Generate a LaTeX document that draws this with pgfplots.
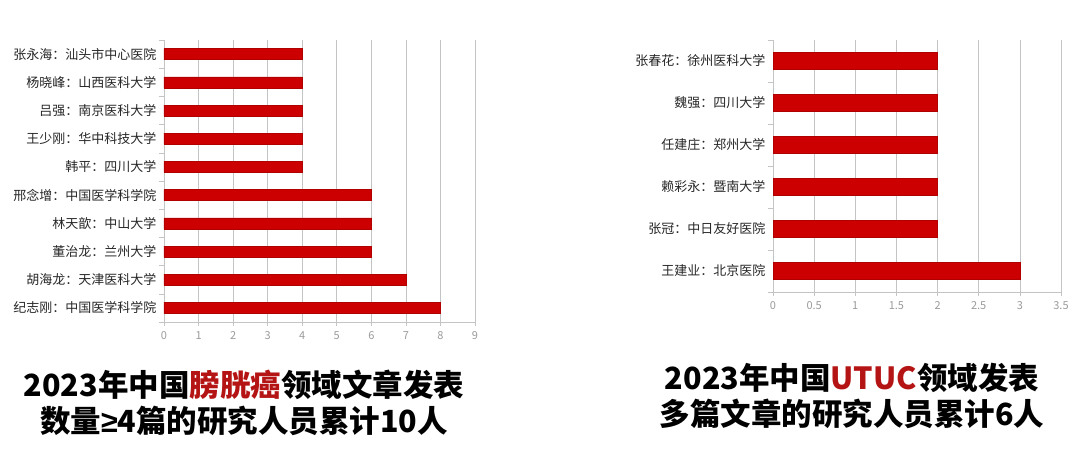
\documentclass[border=0pt]{standalone}
\usepackage{pgfplots}
\pgfplotsset{compat=1.18}
\usepackage{fontspec}
\setmainfont{Noto Sans CJK SC}
\newfontfamily\symfont{Liberation Sans}
\definecolor{barred}{HTML}{CC0000}
\definecolor{baredge}{HTML}{B00000}
\definecolor{gridgray}{HTML}{C4C4C4}
\definecolor{tickgray}{HTML}{9A9A9A}
\definecolor{titlered}{HTML}{B51414}

\pgfplotsset{
  redbars/.style={
    xbar, scale only axis,
    axis lines*=left,
    axis line style={draw=gridgray, line width=0.6pt},
    xmajorgrids, grid style={gridgray, line width=0.6pt},
    tick align=outside,
    major tick length=4pt, minor tick length=5pt,
    x tick style={draw=gridgray, line width=0.6pt},
    ytick style={draw=none},
    minor y tick style={draw=gridgray, line width=0.6pt},
    x tick label style={font=\fontsize{11}{13}\selectfont, text=tickgray, yshift=-2pt},
    y tick label style={font=\fontsize{13}{15}\selectfont, text=black!85},
    /pgf/number format/assume math mode=true,
    xmin=0, clip=false,
  },
}

\begin{document}
\begin{tikzpicture}
\useasboundingbox (0,0) rectangle (1080pt,456pt);

% left chart
\begin{axis}[redbars,
    at={(164pt,134pt)}, anchor=south west,
    width=311pt, height=282pt,
    xmax=9, xtick={0,1,...,9},
    ymin=-0.5, ymax=9.5,
    ytick={0,1,...,9},
    minor ytick={-0.5,0.5,...,9.5},
    yticklabels={纪志刚：中国医学科学院, 胡海龙：天津医科大学, 董治龙：兰州大学, 林天歆：中山大学, 邢念增：中国医学科学院, 韩平：四川大学, 王少刚：华中科技大学, 吕强：南京医科大学, 杨晓峰：山西医科大学, 张永海：汕头市中心医院},
    bar width=11pt,
]
\addplot[fill=barred, draw=baredge] coordinates {
    (8,0) (7,1) (6,2) (6,3) (6,4) (4,5) (4,6) (4,7) (4,8) (4,9)
};
\end{axis}

% right chart
\begin{axis}[redbars,
    at={(773pt,164pt)}, anchor=south west,
    width=288pt, height=252pt,
    xmax=3.5, xtick={0,0.5,...,3.5},
    ymin=-0.5, ymax=5.5,
    ytick={0,1,...,5},
    minor ytick={-0.5,0.5,...,5.5},
    yticklabels={王建业：北京医院, 张冠：中日友好医院, 赖彩永：暨南大学, 任建庄：郑州大学, 魏强：四川大学, 张春花：徐州医科大学},
    bar width=17pt,
]
\addplot[fill=barred, draw=baredge] coordinates {
    (3,0) (2,1) (2,2) (2,3) (2,4) (2,5)
};
\end{axis}

\node[align=center, font=\fontsize{30.5}{36}\selectfont\bfseries]
  at (244pt,53pt) {2023年中国\textcolor{titlered}{膀胱癌}领域文章发表\\数量{\symfont\bfseries ≥}4篇的研究人员累计10人};
\node[align=center, font=\fontsize{30.5}{36}\selectfont\bfseries]
  at (852pt,60pt) {2023年中国\textcolor{titlered}{UTUC}领域发表\\多篇文章的研究人员累计6人};
\end{tikzpicture}
\end{document}
